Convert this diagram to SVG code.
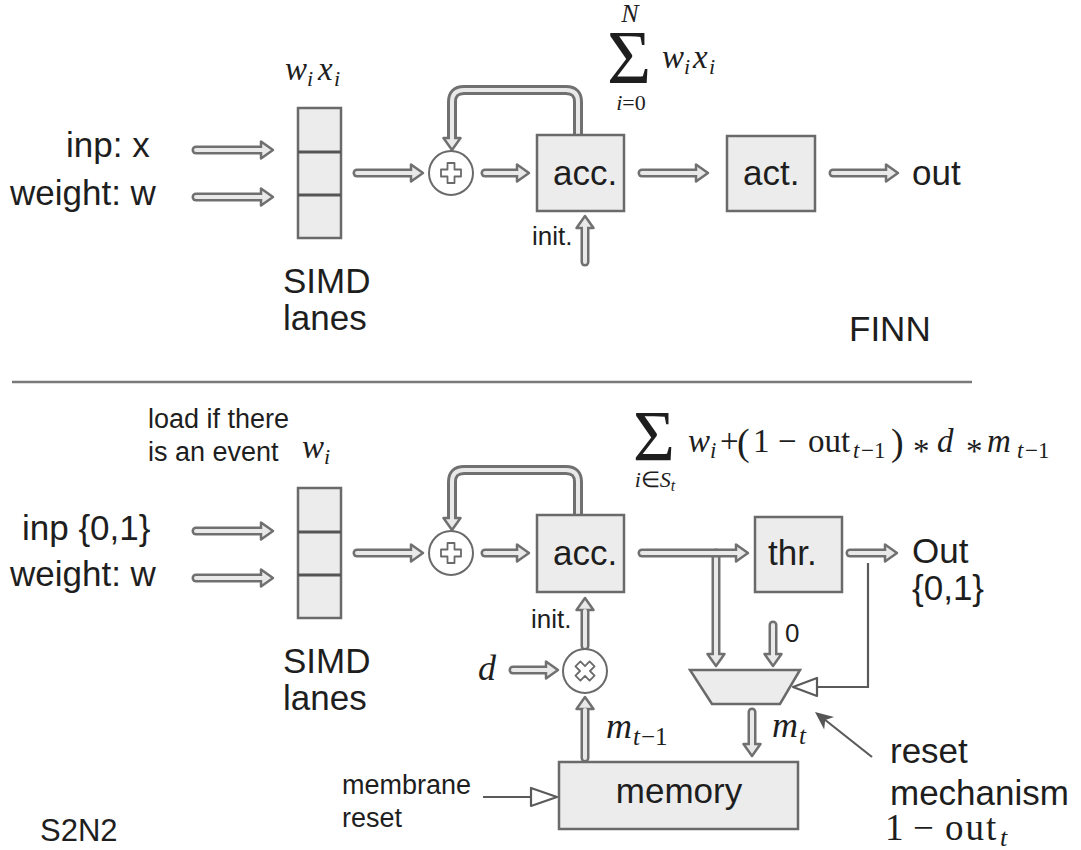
<svg xmlns="http://www.w3.org/2000/svg" xmlns:xlink="http://www.w3.org/1999/xlink" width="1081" height="850" viewBox="0 0 1081 850">
<style>
.so{stroke:#707070;stroke-width:9;fill:none;stroke-linecap:round;stroke-linejoin:round}
.si{stroke:#e9e9e9;stroke-width:4;fill:none;stroke-linecap:round;stroke-linejoin:round}
.lo{stroke-width:10}
.hd{fill:#e9e9e9;stroke:#707070;stroke-width:2.5;stroke-linejoin:round}
.thin{stroke:#5a5a5a;stroke-width:2.2;fill:none}
.oh{fill:#fff;stroke:#5a5a5a;stroke-width:2.2;stroke-linejoin:round}
.box{fill:#ececec;stroke:#6a6a6a;stroke-width:2.5}
.div{stroke:#555;stroke-width:3}
.op{fill:#fff;stroke:#6a6a6a;stroke-width:2}
.sym{fill:#fff;stroke:#6a6a6a;stroke-width:1.8;stroke-linejoin:round}
.t{font-family:"Liberation Sans",Arial,sans-serif;fill:#1e1e1e;font-size:35px}
.s{font-family:"Liberation Sans",Arial,sans-serif;fill:#1e1e1e;font-size:27px}
.m{font-family:"Liberation Serif","Times New Roman",serif;fill:#1e1e1e}
.it{font-style:italic}
</style>
<defs>
<path id="ah" class="hd" d="M0,0 L-12,-8.5 L-12,8.5 Z"/>
<path id="plus" class="sym" d="M-3.5,-10 H3.5 V-3.5 H10 V3.5 H3.5 V10 H-3.5 V3.5 H-10 V-3.5 H-3.5 Z"/>
</defs>

<line x1="12" y1="382" x2="972" y2="382" stroke="#7a7a7a" stroke-width="2.5"/>

<g id="connectors">
  <!-- top -->
  <path class="so" d="M196,150 H262"/><use xlink:href="#ah" transform="translate(273,150)"/><path class="si" d="M196,150 H264"/>
  <path class="so" d="M196,197 H262"/><use xlink:href="#ah" transform="translate(273,197)"/><path class="si" d="M196,197 H264"/>
  <path class="so" d="M357,173 H412"/><use xlink:href="#ah" transform="translate(423,173)"/><path class="si" d="M357,173 H414"/>
  <path class="so" d="M485,173 H518"/><use xlink:href="#ah" transform="translate(529,173)"/><path class="si" d="M485,173 H520"/>
  <path class="so" d="M642,173 H697"/><use xlink:href="#ah" transform="translate(708,173)"/><path class="si" d="M642,173 H699"/>
  <path class="so" d="M833,173 H887"/><use xlink:href="#ah" transform="translate(898,173)"/><path class="si" d="M833,173 H889"/>
  <path class="so lo" d="M578,136 V102 Q578,90 566,90 H464 Q452,90 452,102 V139"/><use xlink:href="#ah" transform="translate(452,150) rotate(90)"/><path class="si" d="M578,136 V102 Q578,90 566,90 H464 Q452,90 452,102 V141"/>
  <path class="so" d="M585,262 V227"/><use xlink:href="#ah" transform="translate(585,216) rotate(-90)"/><path class="si" d="M585,262 V225"/>
  <!-- bottom -->
  <path class="so" d="M196,531 H262"/><use xlink:href="#ah" transform="translate(273,531)"/><path class="si" d="M196,531 H264"/>
  <path class="so" d="M196,578 H262"/><use xlink:href="#ah" transform="translate(273,578)"/><path class="si" d="M196,578 H264"/>
  <path class="so" d="M357,553 H412"/><use xlink:href="#ah" transform="translate(423,553)"/><path class="si" d="M357,553 H414"/>
  <path class="so" d="M485,553 H518"/><use xlink:href="#ah" transform="translate(529,553)"/><path class="si" d="M485,553 H520"/>
  <path class="so lo" d="M578,516 V482 Q578,470 566,470 H464 Q452,470 452,482 V519"/><use xlink:href="#ah" transform="translate(452,530) rotate(90)"/><path class="si" d="M578,516 V482 Q578,470 566,470 H464 Q452,470 452,482 V521"/>
  <path class="so" d="M716,553 V655"/><use xlink:href="#ah" transform="translate(716,666) rotate(90)"/><path class="si" d="M716,558 V657"/>
  <path class="so" d="M642,553 H737"/><use xlink:href="#ah" transform="translate(748,553)"/><path class="si" d="M642,553 H739"/>
  <path class="so" d="M850,553 H886"/><use xlink:href="#ah" transform="translate(897,553)"/><path class="si" d="M850,553 H888"/>
  <path class="so" d="M773,625 V655"/><use xlink:href="#ah" transform="translate(773,666) rotate(90)"/><path class="si" d="M773,625 V657"/>
  <path class="so" d="M585,646 V609"/><use xlink:href="#ah" transform="translate(585,598) rotate(-90)"/><path class="si" d="M585,646 V611"/>
  <path class="so" d="M513,670 H547"/><use xlink:href="#ah" transform="translate(558,670)"/><path class="si" d="M513,670 H549"/>
  <path class="so" d="M585,758 V708"/><use xlink:href="#ah" transform="translate(585,697) rotate(-90)"/><path class="si" d="M585,758 V710"/>
  <path class="so" d="M752,712 V745"/><use xlink:href="#ah" transform="translate(752,756) rotate(90)"/><path class="si" d="M752,712 V747"/>
  <!-- thin -->
  <path class="thin" d="M483,797 H531"/><polygon class="oh" points="557,797 531,788 531,806"/>
  <path class="thin" d="M868,563 V687 H817"/><polygon class="oh" points="793,687 817,678 817,696"/>
  <path class="thin" d="M872,757 L824,719" stroke-width="2.6"/>
  <path d="M0,0 L-18,-8 L-13,0 L-18,8 Z" fill="#555" transform="translate(815,712) rotate(218.3)"/>
</g>

<g id="simd-top"><rect class="box" x="298" y="108" width="43" height="130"/><line class="div" x1="298" y1="152" x2="341" y2="152"/><line class="div" x1="298" y1="195" x2="341" y2="195"/></g>
<g id="adder-top"><circle class="op" cx="451" cy="173" r="22"/><use xlink:href="#plus" transform="translate(451,173)"/></g>
<g id="acc-top"><rect class="box" x="537" y="135" width="87" height="76"/><text class="t" x="553" y="185">acc.</text></g>
<g id="act"><rect class="box" x="727" y="136" width="88" height="75"/><text class="t" x="743" y="185">act.</text></g>

<g id="simd-bot"><rect class="box" x="298" y="488" width="43" height="130"/><line class="div" x1="298" y1="532" x2="341" y2="532"/><line class="div" x1="298" y1="575" x2="341" y2="575"/></g>
<g id="adder-bot"><circle class="op" cx="451" cy="553" r="22"/><use xlink:href="#plus" transform="translate(451,553)"/></g>
<g id="acc-bot"><rect class="box" x="537" y="515" width="87" height="77"/><text class="t" x="553" y="565">acc.</text></g>
<g id="thr"><rect class="box" x="755" y="517" width="87" height="75"/><text class="t" x="768" y="565">thr.</text></g>
<g id="mux"><polygon class="box" points="690,670 800,670 780,704 712,704"/></g>
<g id="mult"><circle class="op" cx="585" cy="671" r="22"/><use xlink:href="#plus" transform="translate(585,671) rotate(45)"/></g>
<g id="memory"><rect class="box" x="559" y="762" width="239" height="67"/><text class="t" x="679" y="803" text-anchor="middle">memory</text></g>

<g id="labels">
  <text class="t" x="66" y="157">inp: x</text>
  <text class="t" x="10" y="205">weight: w</text>
  <text class="t" x="283" y="293">SIMD</text>
  <text class="t" x="283" y="330">lanes</text>
  <text class="s" x="532" y="245" style="font-size:26px">init.</text>
  <text class="t" x="912" y="185">out</text>
  <text class="t" x="849" y="341">FINN</text>
  <text class="m it" font-size="33"><tspan x="285" y="80">w</tspan><tspan x="307" y="86" font-size="22">i</tspan><tspan x="318" y="80">x</tspan><tspan x="334" y="86" font-size="22">i</tspan></text>
  <text class="m"><tspan x="607" y="83" font-size="76">Σ</tspan><tspan x="630" y="22" font-size="26" font-style="italic" text-anchor="middle">N</tspan><tspan x="631" y="110" font-size="22" font-style="italic" text-anchor="middle">i</tspan><tspan font-size="22">=0</tspan><tspan x="662" y="68" font-size="33" font-style="italic">w</tspan><tspan x="684" y="74" font-size="22" font-style="italic">i</tspan><tspan x="693" y="68" font-size="33" font-style="italic">x</tspan><tspan x="709" y="74" font-size="22" font-style="italic">i</tspan></text>

  <text class="s" x="148" y="428">load if there</text>
  <text class="s" x="148" y="461">is an event</text>
  <text class="m it" font-size="33"><tspan x="302" y="458">w</tspan><tspan x="324" y="464" font-size="22">i</tspan></text>
  <text class="t" x="22" y="540">inp {0,1}</text>
  <text class="t" x="10" y="586">weight: w</text>
  <text class="t" x="283" y="673">SIMD</text>
  <text class="t" x="283" y="710">lanes</text>
  <text class="t" x="912" y="563">Out</text>
  <text class="t" x="912" y="600">{0,1}</text>
  <text class="s" x="531" y="628" style="font-size:26px">init.</text>
  <text class="s" x="785" y="642" style="font-size:26px">0</text>
  <text class="m it" x="478" y="680" font-size="36">d</text>
  <text class="m it" font-size="36"><tspan x="606" y="738">m</tspan><tspan x="633" y="745" font-size="25">t</tspan><tspan x="641" y="745" font-size="25" font-style="normal">−1</tspan></text>
  <text class="m it" font-size="36"><tspan x="772" y="737">m</tspan><tspan x="799" y="744" font-size="25">t</tspan></text>
  <text class="s" x="342" y="794">membrane</text>
  <text class="s" x="342" y="827">reset</text>
  <text class="t" x="890" y="763">reset</text>
  <text class="t" x="890" y="805">mechanism</text>
  <text class="m" font-size="37"><tspan x="885" y="840">1</tspan><tspan x="913" y="840">−</tspan><tspan x="945" y="840" letter-spacing="2">out</tspan><tspan x="1000" y="846" font-size="26" font-style="italic">t</tspan></text>
  <text class="t" x="40" y="841" style="font-size:31px">S2N2</text>

  <text class="m" font-size="33"><tspan x="633" y="460" font-size="72">Σ</tspan><tspan x="655" y="487" font-size="22" font-style="italic" text-anchor="middle">i</tspan><tspan font-size="22">∈</tspan><tspan font-size="22" font-style="italic">S</tspan><tspan font-style="italic" font-size="16" dy="4">t</tspan><tspan x="688" y="452" font-style="italic">w</tspan><tspan x="710" y="458" font-size="23" font-style="italic">i</tspan><tspan x="720" y="452">+</tspan><tspan x="737" y="455" font-size="38">(</tspan><tspan x="753" y="452">1</tspan><tspan x="778" y="452">−</tspan><tspan x="808" y="452">out</tspan><tspan x="853" y="458" font-size="23" font-style="italic">t</tspan><tspan x="861" y="458" font-size="23">−1</tspan><tspan x="891" y="455" font-size="38">)</tspan><tspan x="913" y="462">*</tspan><tspan x="937" y="452" font-style="italic">d</tspan><tspan x="966" y="462">*</tspan><tspan x="987" y="452" font-style="italic">m</tspan><tspan x="1017" y="458" font-size="23" font-style="italic">t</tspan><tspan x="1025" y="458" font-size="23">−1</tspan></text>
</g>
</svg>
